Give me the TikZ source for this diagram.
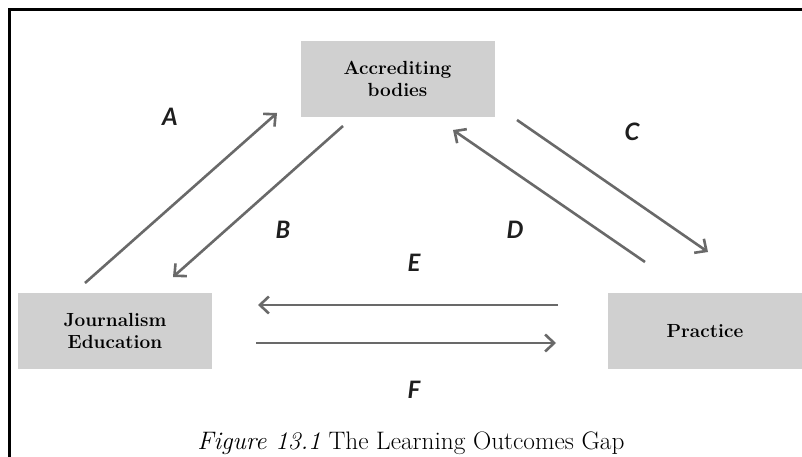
\documentclass[tikz,border=0pt]{standalone}
\usepackage{fontspec}
\newfontfamily\lblfont{Lato}
\usetikzlibrary{arrows.meta}
\definecolor{boxgray}{RGB}{208,208,208}
\definecolor{arrowgray}{RGB}{105,105,105}
\definecolor{labelgray}{RGB}{30,30,30}
\begin{document}
\begin{tikzpicture}[x=1pt,y=-1pt,
  box/.style={fill=boxgray, draw=none, minimum width=194pt, minimum height=76pt,
    inner sep=0pt, align=center, text=black,
    font=\bfseries\fontsize{19}{22}\selectfont},
  conn/.style={draw=arrowgray, line width=2.6pt,
    -{Straight Barb[length=9pt,width=17pt,line width=2.6pt]}},
  lbl/.style={font=\lblfont\bfseries\itshape\fontsize{24}{26}\selectfont, text=labelgray},
  frameline/.style={draw=black, line width=3pt}]
\useasboundingbox (0,0) rectangle (802,457);
\fill[white] (0,0) rectangle (802,457);
% frame (only top and left are visible)
\coordinate (fbl) at (9,470);
\coordinate (ftl) at (9,10);
\coordinate (ftr) at (815,10);
\draw[frameline] (fbl) -- (ftl) -- (ftr);
% boxes
\node[box] (acc) at (397.5,79) {Accrediting\\bodies};
\node[box] (jou) at (115,330.5) {Journalism\\Education};
\node[box] (pra) at (705,331) {Practice};
% arrow end points
\coordinate (a1) at (85,283);  \coordinate (a2) at (277,113);
\coordinate (b1) at (343,126); \coordinate (b2) at (173,277);
\coordinate (c1) at (517,120); \coordinate (c2) at (708,252);
\coordinate (d1) at (645,262); \coordinate (d2) at (453,130);
\coordinate (e1) at (558,305); \coordinate (e2) at (258,305);
\coordinate (f1) at (256,343); \coordinate (f2) at (556,343);
\draw[conn] (a1) -- (a2);
\draw[conn] (b1) -- (b2);
\draw[conn] (c1) -- (c2);
\draw[conn] (d1) -- (d2);
\draw[conn] (e1) -- (e2);
\draw[conn] (f1) -- (f2);
% labels
\node[lbl] (la) at (170,117) {A};
\node[lbl] (lb) at (283,230) {B};
\node[lbl] (lc) at (632,132) {C};
\node[lbl] (ld) at (515,230) {D};
\node[lbl] (le) at (414,263) {E};
\node[lbl] (lf) at (414,390) {F};
% caption
\node[anchor=base, font=\fontsize{25.3}{27}\selectfont] (cap) at (411,449)
  {\textit{Figure 13.1} The Learning Outcomes Gap};
\end{tikzpicture}
\end{document}
